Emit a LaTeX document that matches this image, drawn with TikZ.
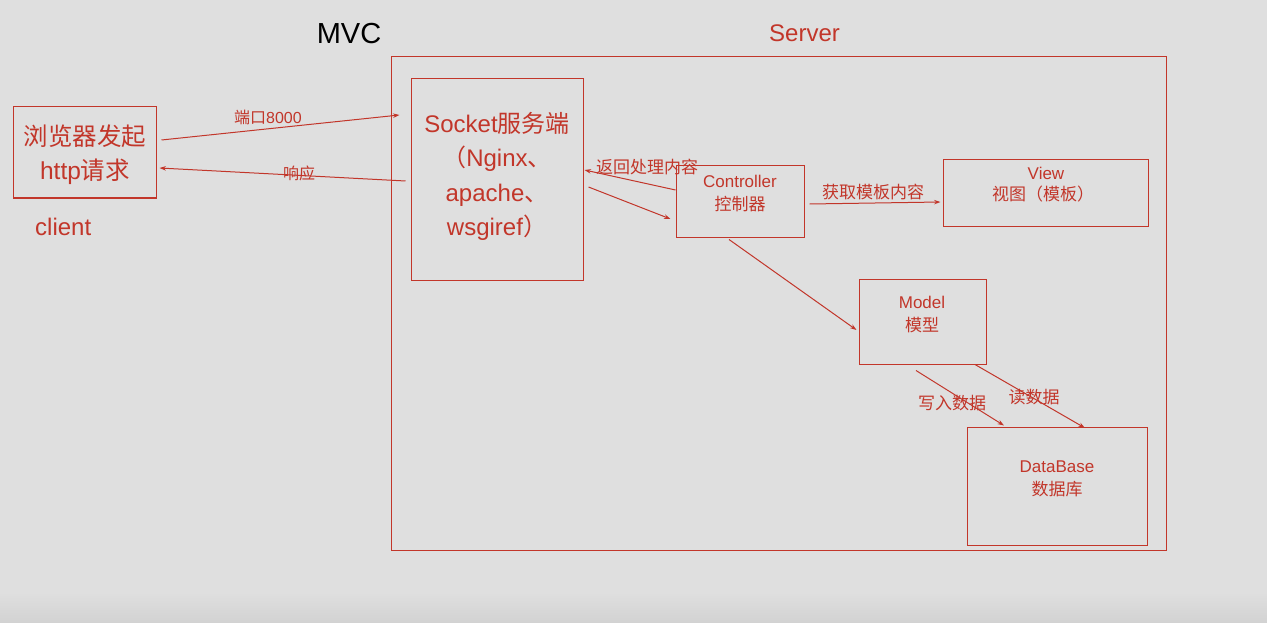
\documentclass[tikz,border=0pt]{standalone}
\usepackage{fontspec}
\setmainfont{Liberation Sans}
\newfontfamily\cjk{Noto Sans CJK SC}
\usetikzlibrary{arrows.meta}
\definecolor{bg}{RGB}{223,223,223}
\definecolor{bgdark}{RGB}{210,210,210}
\definecolor{mred}{RGB}{194,54,42}
\tikzset{
  box/.style={draw=mred, line width=1pt, inner sep=0pt, rectangle},
  txt/.style={text=mred, inner sep=0pt, anchor=base},
  conn/.style={draw=mred, line width=1pt, -{Stealth[length=6.5pt,width=4.5pt]}},
  lbl/.style={text=mred, inner sep=0pt, anchor=base, font=\fontsize{17}{20}\selectfont\cjk},
}
\begin{document}
\begin{tikzpicture}[x=1pt,y=-1pt]
\useasboundingbox (0,0) rectangle (1267,623);
\fill[bg] (0,0) rectangle (1267,623);
\shade[top color=bg, bottom color=bgdark] (0,592) rectangle (1267,623);

% titles
\node[inner sep=0pt, anchor=base, font=\fontsize{29}{34}\selectfont] (mvc) at (349,43.5) {MVC};
\node[txt, font=\fontsize{24}{28}\selectfont] (server) at (804.5,41.5) {Server};

% boxes
\node[box, minimum width=775pt, minimum height=493pt] (srv) at (778.5,303.5) {};
\node[box, minimum width=143pt, minimum height=91pt] (client) at (84.5,152.5) {};
\node[box, minimum width=172pt, minimum height=201pt] (sock) at (497,179.5) {};
\node[box, minimum width=128pt, minimum height=71pt] (ctrl) at (740,201.5) {};
\node[box, minimum width=205pt, minimum height=66pt] (view) at (1045.5,193) {};
\node[box, minimum width=127pt, minimum height=85pt] (model) at (922.5,321.5) {};
\node[box, minimum width=180pt, minimum height=118pt] (db) at (1057,486) {};

% client text
\node[txt, font=\fontsize{24.5}{28}\selectfont\cjk] (c1) at (85,146) {浏览器发起};
\node[txt, font=\fontsize{24.5}{28}\selectfont] (c2) at (85,179) {http{\cjk 请求}};
\node[txt, anchor=base west, font=\fontsize{24}{28}\selectfont] (clientlbl) at (35,235) {client};

% socket text
\node[txt, font=\fontsize{24}{28}\selectfont] (s1) at (497,133) {Socket{\cjk 服务端}};
\node[txt, font=\fontsize{24}{28}\selectfont] (s2) at (497,167) {{\cjk （}Nginx{\cjk 、}};
\node[txt, font=\fontsize{24}{28}\selectfont] (s3) at (497,201) {apache{\cjk 、}};
\node[txt, font=\fontsize{24}{28}\selectfont] (s4) at (497,235) {wsgiref{\cjk ）}};

% controller
\node[txt, font=\fontsize{17}{20}\selectfont] (ct1) at (740,188) {Controller};
\node[txt, font=\fontsize{17}{20}\selectfont\cjk] (ct2) at (740,210.5) {控制器};

% view
\node[txt, font=\fontsize{17}{20}\selectfont] (v1) at (1046,179) {View};
\node[txt, font=\fontsize{17}{20}\selectfont\cjk] (v2) at (1043,200.5) {视图（模板）};

% model
\node[txt, font=\fontsize{17}{20}\selectfont] (m1) at (922,308) {Model};
\node[txt, font=\fontsize{17}{20}\selectfont\cjk] (m2) at (922,331) {模型};

% database
\node[txt, font=\fontsize{17}{20}\selectfont] (d1) at (1057,472) {DataBase};
\node[txt, font=\fontsize{17}{20}\selectfont\cjk] (d2) at (1057,495) {数据库};

% connectors
\draw[conn] ([shift={(5,-12.5)}]client.east) -- ([shift={(-11,-64.5)}]sock.west);
\draw[conn] ([shift={(-5,1.5)}]sock.west) -- ([shift={(3,15.5)}]client.east);
\draw[conn] ([shift={(0,-11.5)}]ctrl.west) -- ([shift={(1,-9.5)}]sock.east);
\draw[conn] ([shift={(5,7.5)}]sock.east) -- ([shift={(-5,17.5)}]ctrl.west);
\draw[conn] ([shift={(5,2.5)}]ctrl.east) -- ([shift={(-2,9)}]view.west);
\draw[conn] ([shift={(-11,2)}]ctrl.south) -- ([shift={(-2,8.5)}]model.west);
\draw[conn] ([shift={(-6.5,6)}]model.south) -- ([shift={(-53,-1)}]db.north);
\draw[conn] ([shift={(52.5,0)}]model.south) -- ([shift={(28,1.5)}]db.north);

% connector labels
\node[txt, font=\fontsize{16}{19}\selectfont] (l1) at (268,123.5) {{\cjk 端口}8000};
\node[lbl, font=\fontsize{16}{19}\selectfont\cjk] (l2) at (299,179) {响应};
\node[lbl] (l3) at (647,173.5) {返回处理内容};
\node[lbl] (l4) at (873,198.5) {获取模板内容};
\node[lbl] (l5) at (952,409.5) {写入数据};
\node[lbl] (l6) at (1034,403.5) {读数据};
\end{tikzpicture}
\end{document}
